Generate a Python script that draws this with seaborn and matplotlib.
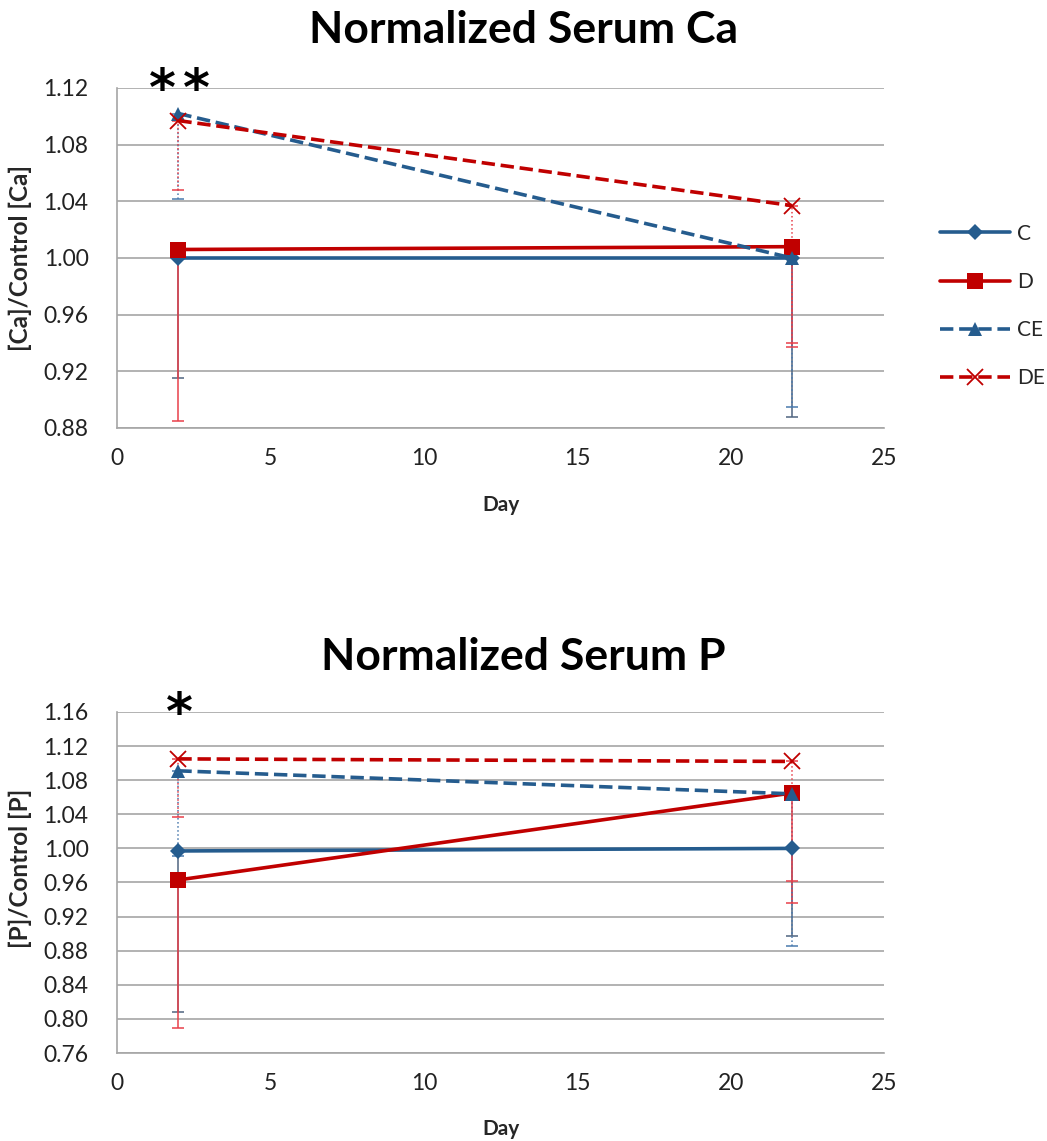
import numpy as np
import pandas as pd
import matplotlib
matplotlib.use("Agg")
import matplotlib.pyplot as plt
import matplotlib.transforms as mtransforms
from matplotlib.lines import Line2D
import seaborn as sns

# ---------------- data ----------------
days = [2, 22]
series = ["C", "D", "CE", "DE"]

ca_C = [1.000, 1.000]
ca_D = [1.006, 1.008]
ca_CE = [1.102, 1.000]
ca_DE = [1.097, 1.037]
ca_C_err = [0.085, 0.112]
ca_D_err = [0.121, 0.071]
ca_CE_err = [0.060, 0.105]
ca_DE_err = [0.049, 0.097]

p_C = [0.997, 1.000]
p_D = [0.963, 1.065]
p_CE = [1.091, 1.064]
p_DE = [1.105, 1.102]
p_C_err = [0.189, 0.103]
p_D_err = [0.174, 0.129]
p_CE_err = [0.100, 0.178]
p_DE_err = [0.068, 0.140]

ca_yticks = [0.88, 0.92, 0.96, 1.00, 1.04, 1.08, 1.12]
p_yticks = [0.76, 0.80, 0.84, 0.88, 0.92, 0.96, 1.00, 1.04, 1.08, 1.12, 1.16]
xticks = [0, 5, 10, 15, 20, 25]

# ---------------- style ----------------
sns.set_theme(style="white")
plt.rcParams['font.family'] = ['Lato', 'DejaVu Sans']

BLUE = "#255C8E"
RED = "#C00000"
styles = {
    "C":  dict(color=BLUE, marker="D", ls="-",  ms=8,  mew=0, err_ls="-",  ecolor="#4F6580"),
    "D":  dict(color=RED,  marker="s", ls="-",  ms=11, mew=0, err_ls="-",  ecolor="#E8404A"),
    "CE": dict(color=BLUE, marker="^", ls="--", ms=10, mew=0, err_ls=":",  ecolor="#4A7AAE"),
    "DE": dict(color=RED,  marker="x", ls="--", ms=11, mew=1.3, err_ls=":", ecolor="#E8404A"),
}

W, H = 1047, 1141
fig = plt.figure(figsize=(W / 100, H / 100), dpi=100)
ax1 = fig.add_axes([117 / W, 1 - 428 / H, 767 / W, 340 / H])
ax2 = fig.add_axes([117 / W, 1 - 1053 / H, 767 / W, 341 / H])


def draw(ax, vals, errs, yticks, ylabel, ylab_y, xlab_y):
    for s in series:
        st = styles[s]
        eb = ax.errorbar(days, vals[s], yerr=[errs[s], [0, 0]], fmt="none",
                         ecolor=st["ecolor"], elinewidth=1.1, capsize=4.5,
                         capthick=1.1, zorder=2)
        for lc in eb[2]:
            lc.set_linestyle(st["err_ls"])
    for s in series:
        st = styles[s]
        df = pd.DataFrame({"Day": days, "val": vals[s]})
        sns.lineplot(data=df, x="Day", y="val", ax=ax, color=st["color"],
                     linestyle=st["ls"], linewidth=2.6, marker=st["marker"],
                     markersize=st["ms"], markeredgewidth=st["mew"],
                     markeredgecolor=st["color"], zorder=3)
    ax.set_xlim(0, 25)
    ax.set_ylim(yticks[0], yticks[-1])
    ax.set_yticks(yticks)
    ax.set_yticklabels([f"{t:.2f}" for t in yticks])
    ax.set_xticks(xticks)
    ax.yaxis.grid(True, color="#A6A6A6", linewidth=1.2)
    ax.xaxis.grid(False)
    for sp in ["top", "right"]:
        ax.spines[sp].set_visible(False)
    for sp in ["left", "bottom"]:
        ax.spines[sp].set_color("#A6A6A6")
        ax.spines[sp].set_linewidth(1.2)
    ax.tick_params(axis="both", which="major", width=1.2, color="#A6A6A6",
                   labelsize=16.5, labelcolor="#222222")
    ax.tick_params(axis="x", direction="out", length=6.5, pad=8)
    ax.tick_params(axis="y", direction="inout", length=13, pad=14)
    ax.set_xlabel("Day", fontsize=15, fontweight="bold")
    ax.set_ylabel(ylabel, fontsize=17.5, fontweight="bold")
    ax.xaxis.set_label_coords(0.5, xlab_y)
    ax.yaxis.set_label_coords(-0.111, ylab_y)


draw(ax1, {"C": ca_C, "D": ca_D, "CE": ca_CE, "DE": ca_DE},
     {"C": ca_C_err, "D": ca_D_err, "CE": ca_CE_err, "DE": ca_DE_err},
     ca_yticks, "[Ca]/Control [Ca]", 0.5, -0.198)
draw(ax2, {"C": p_C, "D": p_D, "CE": p_CE, "DE": p_DE},
     {"C": p_C_err, "D": p_D_err, "CE": p_CE_err, "DE": p_DE_err},
     p_yticks, "[P]/Control [P]", 0.54, -0.193)

fig.text(0.5, 1 - 43 / H, "Normalized Serum Ca", ha="center", va="baseline",
         fontsize=32, fontweight="bold", color="black")
fig.text(0.5, 1 - 670 / H, "Normalized Serum P", ha="center", va="baseline",
         fontsize=32, fontweight="bold", color="black")


def star(ax, x, dx_px):
    base = mtransforms.blended_transform_factory(ax.transData, ax.transAxes)
    tr = base + mtransforms.ScaledTranslation(dx_px / 100, -17 / 100, fig.dpi_scale_trans)
    ax.text(x, 1.0, "*", transform=tr, ha="center", va="baseline", fontsize=37,
            fontweight="bold", family="DejaVu Sans", clip_on=False, color="black")


star(ax1, 2, -16)
star(ax1, 2, 18)
star(ax2, 2, 1)

handles = []
for s in series:
    st = styles[s]
    handles.append(Line2D([0], [0], color=st["color"], linestyle=st["ls"],
                          linewidth=2.6, marker=st["marker"], markersize=st["ms"],
                          markeredgewidth=st["mew"], markeredgecolor=st["color"]))
fig.legend(handles, series, loc="upper left", bbox_to_anchor=(921 / W, 1 - 205 / H),
           frameon=False, fontsize=15, handlelength=3.36, labelspacing=1.35,
           handletextpad=0.34)

fig.savefig("out.png", dpi=100)
